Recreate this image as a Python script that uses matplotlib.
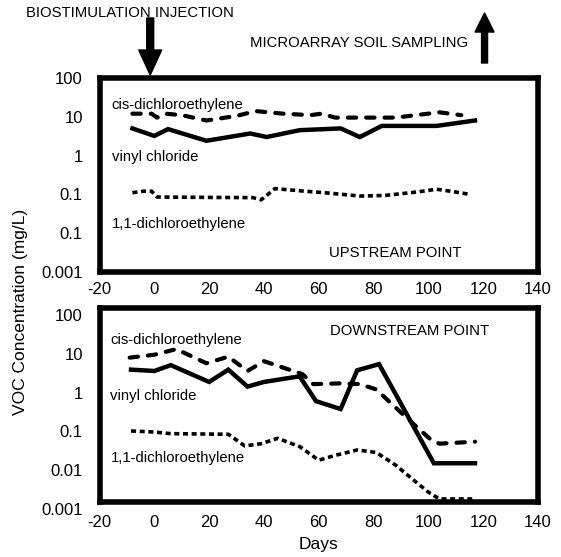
import matplotlib.pyplot as plt
import matplotlib.transforms as mtransforms

plt.rcParams['font.family'] = ['Liberation Sans', 'DejaVu Sans']
plt.rcParams['axes.unicode_minus'] = False

# upstream point
up_vc_days = [-8, 0, 5, 19, 35, 41, 53, 68, 75, 83, 103, 117]
up_vc = [5.0, 3.2, 4.8, 2.4, 3.7, 3.0, 4.5, 5.0, 3.0, 5.8, 5.8, 8.0]
up_cis_days = [-8, -1, 1, 4, 10, 19, 30, 37, 47, 57, 61, 66, 88, 104, 112]
up_cis = [12, 12, 9.5, 12, 11, 8, 10.5, 14, 12, 11, 12, 9.5, 9.5, 13, 11]
up_dce_days = [-8, -4, -1, 1, 20, 36, 39, 44, 55, 62, 75, 84, 96, 103, 108, 115]
up_dce = [0.11, 0.12, 0.12, 0.085, 0.083, 0.082, 0.072, 0.14, 0.12, 0.11,
          0.09, 0.093, 0.115, 0.135, 0.12, 0.1]

# downstream point
dn_vc_days = [-8.5, 0, 6, 20, 27, 34, 40, 53, 59, 68, 74, 82, 102, 117]
dn_vc = [2.6, 2.4, 3.4, 1.25, 2.6, 0.95, 1.25, 1.75, 0.4, 0.25, 2.5, 3.6, 0.01, 0.01]
dn_cis_days = [-9, 0, 8, 19, 27, 34, 40, 54, 58, 68, 75, 81, 92, 101, 104, 117]
dn_cis = [5.3, 6.3, 8.8, 3.8, 5.6, 2.4, 4.3, 2.0, 1.1, 1.15, 1.1, 0.8, 0.15, 0.04, 0.032, 0.036]
dn_dce_days = [-8.5, 0, 6, 27, 33, 39, 45, 53, 60, 66, 74, 81, 88, 94, 100, 104, 116]
dn_dce = [0.068, 0.064, 0.058, 0.056, 0.028, 0.032, 0.044, 0.027, 0.012, 0.016,
          0.022, 0.019, 0.009, 0.004, 0.0018, 0.0012, 0.0012]

y_ticks = [100, 10, 1, 0.1, 0.01, 0.001]
up_ytick_labels = ['100', '10', '1', '0.1', '0.1', '0.001']
dn_ytick_labels = ['100', '10', '1', '0.1', '0.01', '0.001']
x_ticks = [-20, 0, 20, 40, 60, 80, 100, 120, 140]

arrow_days = [-1.5, 120.5]

fig = plt.figure(figsize=(5.61, 5.57), dpi=100)
ax1 = fig.add_axes([0.1774, 0.512, 0.7816, 0.348])
ax2 = fig.add_axes([0.1774, 0.0987, 0.7816, 0.348])


def draw_panel(ax, vc_d, vc, cis_d, cis, dce_d, dce, ylabels):
    ax.plot(vc_d, vc, color='black', lw=3.2, solid_joinstyle='miter')
    ax.plot(cis_d, cis, color='black', lw=3.0, dashes=(2.0, 2.4),
            dash_capstyle='round')
    ax.plot(dce_d, dce, color='black', lw=2.6, dashes=(1.4, 1.0),
            dash_capstyle='butt')
    ax.set_yscale('log')
    ax.set_ylim(0.001, 100)
    ax.set_xlim(-20, 140)
    ax.set_yticks(y_ticks)
    ax.set_yticklabels(ylabels)
    ax.minorticks_off()
    ax.set_xticks(x_ticks)
    ax.set_xticklabels([str(t) for t in x_ticks])
    ax.tick_params(axis='y', length=0, pad=12, labelsize=12)
    ax.tick_params(axis='x', length=0, pad=7, labelsize=12)
    for sp in ax.spines.values():
        sp.set_linewidth(4)
        sp.set_capstyle('projecting')
        sp.set_zorder(3)


draw_panel(ax1, up_vc_days, up_vc, up_cis_days, up_cis, up_dce_days, up_dce,
           up_ytick_labels)
draw_panel(ax2, dn_vc_days, dn_vc, dn_cis_days, dn_cis, dn_dce_days, dn_dce,
           dn_ytick_labels)
ax2.tick_params(axis='x', pad=9)

# bottom panel labels sit a little lower than the ticks
shift = mtransforms.ScaledTranslation(0, -0.07, fig.dpi_scale_trans)
for lab in ax2.get_yticklabels():
    lab.set_transform(lab.get_transform() + shift)

fs = 10.7
ax1.text(-15.5, 20, 'cis-dichloroethylene', fontsize=fs, va='center')
ax1.text(-15.5, 0.9, 'vinyl chloride', fontsize=fs, va='center')
ax1.text(-15.5, 0.017, '1,1-dichloroethylene', fontsize=fs, va='center')
ax1.text(88, 0.003, 'UPSTREAM POINT', fontsize=fs, va='center', ha='center')

ax2.text(-16, 15, 'cis-dichloroethylene', fontsize=fs, va='center')
ax2.text(-16, 0.55, 'vinyl chloride', fontsize=fs, va='center')
ax2.text(-16, 0.0135, '1,1-dichloroethylene', fontsize=fs, va='center')
ax2.text(93, 26, 'DOWNSTREAM POINT', fontsize=fs, va='center', ha='center')

fig.text(0.037, 0.44, 'VOC Concentration (mg/L)', rotation=90, fontsize=12.5,
         ha='center', va='center')
fig.text(0.568, 0.022, 'Days', fontsize=12.5, ha='center', va='center')

fig.text(0.046, 0.977, 'BIOSTIMULATION INJECTION', fontsize=fs, va='center')
fig.text(0.446, 0.923, 'MICROARRAY SOIL SAMPLING', fontsize=fs, va='center')

ax1.annotate('', xy=(arrow_days[0], 1 - 75 / 557), xytext=(arrow_days[0], 1 - 18 / 557),
             xycoords=('data', 'figure fraction'), textcoords=('data', 'figure fraction'),
             arrowprops=dict(facecolor='black', edgecolor='black', width=5,
                             headwidth=16.5, headlength=18, shrink=0),
             annotation_clip=False)
ax1.annotate('', xy=(arrow_days[1], 1 - 13 / 557), xytext=(arrow_days[1], 1 - 63 / 557),
             xycoords=('data', 'figure fraction'), textcoords=('data', 'figure fraction'),
             arrowprops=dict(facecolor='black', edgecolor='black', width=4.3,
                             headwidth=13.7, headlength=13.7, shrink=0),
             annotation_clip=False)

fig.savefig('out.png', dpi=100)
